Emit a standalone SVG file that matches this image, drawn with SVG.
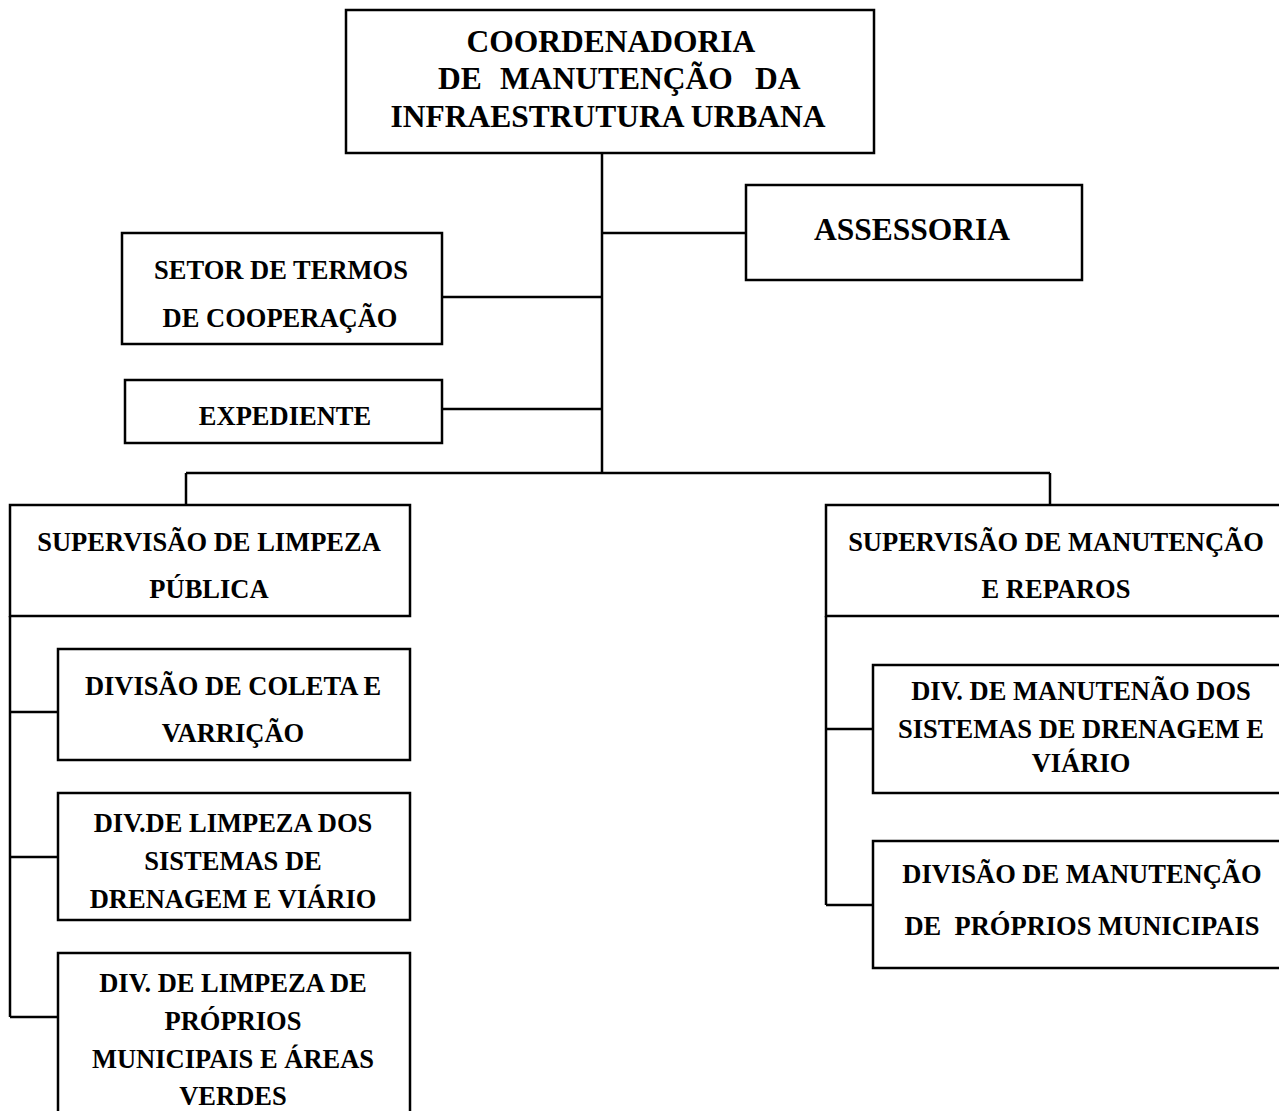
<svg xmlns="http://www.w3.org/2000/svg" width="1279" height="1111" viewBox="0 0 1279 1111">
<style>
rect{fill:#fff;stroke:#000;stroke-width:2.5}
.c line{stroke:#000;stroke-width:2.5}
text{font-family:"Liberation Serif","Times New Roman",serif;font-weight:bold;fill:#000;text-anchor:middle}
.big{font-size:31.5px}
.sm{font-size:26.5px}
</style>
<rect x="0" y="0" width="1279" height="1111" style="stroke:none"/>
<g class="c" id="connectors">
<line x1="602" y1="153" x2="602" y2="473"/>
<line x1="602" y1="233" x2="746" y2="233"/>
<line x1="442" y1="297" x2="602" y2="297"/>
<line x1="442" y1="409" x2="602" y2="409"/>
<line x1="186" y1="473" x2="1050" y2="473"/>
<line x1="186" y1="473" x2="186" y2="505"/>
<line x1="1050" y1="473" x2="1050" y2="505"/>
<line x1="10" y1="616" x2="10" y2="1017"/>
<line x1="10" y1="712" x2="58" y2="712"/>
<line x1="10" y1="857" x2="58" y2="857"/>
<line x1="10" y1="1017" x2="58" y2="1017"/>
<line x1="826" y1="616" x2="826" y2="905"/>
<line x1="826" y1="729" x2="873" y2="729"/>
<line x1="826" y1="905" x2="873" y2="905"/>
</g>
<g id="coordenadoria">
<rect x="346" y="10" width="528" height="143"/>
<text class="big" x="611" y="52">COORDENADORIA</text>
<text class="big" y="89" style="text-anchor:start"><tspan x="438">DE</tspan><tspan x="500">MANUTENÇÃO</tspan><tspan x="755">DA</tspan></text>
<text class="big" x="608" y="127">INFRAESTRUTURA URBANA</text>
</g>
<g id="assessoria">
<rect x="746" y="185" width="336" height="95"/>
<text class="big" x="912" y="240">ASSESSORIA</text>
</g>
<g id="setor-termos">
<rect x="122" y="233" width="320" height="111"/>
<text class="sm" x="281" y="279">SETOR DE TERMOS</text>
<text class="sm" x="280" y="327">DE COOPERAÇÃO</text>
</g>
<g id="expediente">
<rect x="125" y="380" width="317" height="63"/>
<text class="sm" x="285" y="425">EXPEDIENTE</text>
</g>
<g id="sup-limpeza">
<rect x="10" y="505" width="400" height="111"/>
<text class="sm" x="209" y="551">SUPERVISÃO DE LIMPEZA</text>
<text class="sm" x="209" y="598">PÚBLICA</text>
</g>
<g id="sup-manutencao">
<rect x="826" y="505" width="470" height="111"/>
<text class="sm" x="1056" y="551">SUPERVISÃO DE MANUTENÇÃO</text>
<text class="sm" x="1056" y="598">E REPAROS</text>
</g>
<g id="div-coleta">
<rect x="58" y="649" width="352" height="111"/>
<text class="sm" x="233" y="695">DIVISÃO DE COLETA E</text>
<text class="sm" x="233" y="742">VARRIÇÃO</text>
</g>
<g id="div-limpeza-drenagem">
<rect x="58" y="793" width="352" height="127"/>
<text class="sm" x="233" y="832">DIV.DE LIMPEZA DOS</text>
<text class="sm" x="233" y="870">SISTEMAS DE</text>
<text class="sm" x="233" y="908">DRENAGEM E VIÁRIO</text>
</g>
<g id="div-limpeza-proprios">
<rect x="58" y="953" width="352" height="170"/>
<text class="sm" x="233" y="992">DIV. DE LIMPEZA DE</text>
<text class="sm" x="233" y="1030">PRÓPRIOS</text>
<text class="sm" x="233" y="1068">MUNICIPAIS E ÁREAS</text>
<text class="sm" x="233" y="1105">VERDES</text>
</g>
<g id="div-manutencao-drenagem">
<rect x="873" y="665" width="420" height="128"/>
<text class="sm" x="1081" y="700">DIV. DE MANUTENÃO DOS</text>
<text class="sm" x="1081" y="738">SISTEMAS DE DRENAGEM E</text>
<text class="sm" x="1081" y="772">VIÁRIO</text>
</g>
<g id="div-manutencao-proprios">
<rect x="873" y="841" width="420" height="127"/>
<text class="sm" x="1082" y="883">DIVISÃO DE MANUTENÇÃO</text>
<text class="sm" x="1082" y="935" xml:space="preserve">DE  PRÓPRIOS MUNICIPAIS</text>
</g>
</svg>
